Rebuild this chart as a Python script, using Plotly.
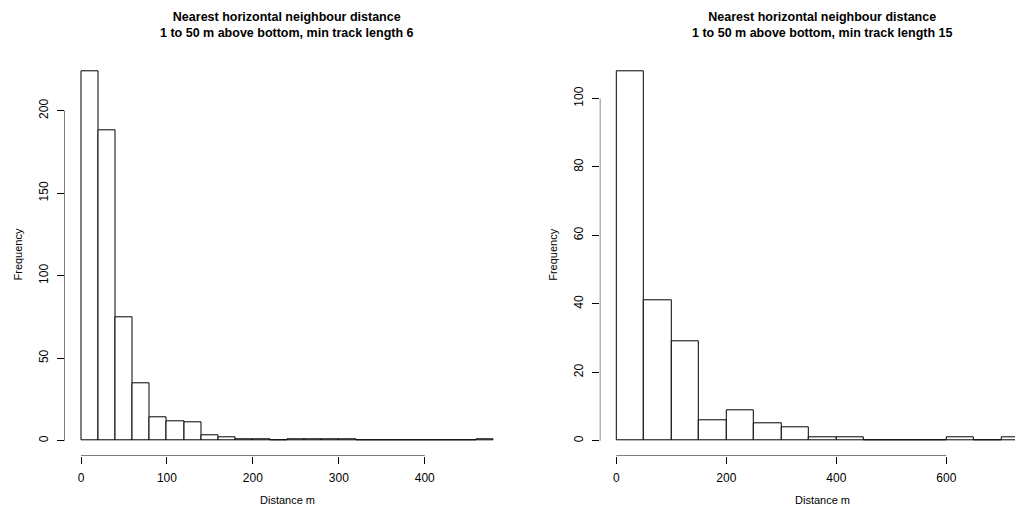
import plotly.graph_objects as go

# ---- data ----
left_bin_width = 20
left_counts = [224, 188, 75, 35, 14, 12, 11, 3, 2, 1, 1, 0, 1, 1, 1, 1,
               0, 0, 0, 0, 0, 0, 0, 1]
left_xticks = [0, 100, 200, 300, 400]
left_yticks = [0, 50, 100, 150, 200]
left_title = "Nearest horizontal neighbour distance<br>1 to 50 m above bottom, min track length 6"

right_bin_width = 50
right_counts = [108, 41, 29, 6, 9, 5, 4, 1, 1, 0, 0, 0, 1, 0, 1]
right_xticks = [0, 200, 400, 600]
right_yticks = [0, 20, 40, 60, 80, 100]
right_title = "Nearest horizontal neighbour distance<br>1 to 50 m above bottom, min track length 15"

x_label = "Distance m"
y_label = "Frequency"

PAGE_W, PAGE_H = 1023, 515
OFF = 8  # default body margin of the html page
W, H = PAGE_W - OFF, PAGE_H - OFF
FONT = "Liberation Sans, Arial, Helvetica, sans-serif"


def px_x(p):
    return (p - OFF) / W


def px_y(p):
    return 1 - (p - OFF) / H


fig = go.Figure()

panels = [
    dict(counts=left_counts, bw=left_bin_width, xt=left_xticks, yt=left_yticks,
         title=left_title, xa="x", ya="y", xdom=[64.5, 510.0],
         clip=False, cx=287),
    dict(counts=right_counts, bw=right_bin_width, xt=right_xticks, yt=right_yticks,
         title=right_title, xa="x2", ya="y2", xdom=[599.8, PAGE_W],
         clip=True, cx=822),
]

y_top_px, y_bot_px = 56.3, 455.5
PLOT_W = 445.5

for i, p in enumerate(panels):
    n = len(p["counts"])
    lefts = [k * p["bw"] for k in range(n)]
    mids = [l + p["bw"] / 2 for l in lefts]
    fig.add_trace(go.Bar(
        x=mids, y=p["counts"], width=[p["bw"]] * n,
        marker=dict(color="white", line=dict(color="black", width=1)),
        xaxis=p["xa"], yaxis=p["ya"], showlegend=False, hoverinfo="x+y",
    ))
    xmax = n * p["bw"]
    ext = 0.04 * xmax
    x0 = -ext
    x1_full = xmax + ext
    if p["clip"]:
        # plot region continues past the right edge of the picture
        scale = PLOT_W / (x1_full - x0)
        x1 = x0 + (p["xdom"][1] - p["xdom"][0]) / scale
    else:
        x1 = x1_full
    ymax = max(p["counts"])
    y0 = -0.04 * ymax
    y1 = ymax * 1.04

    axx = "xaxis" if i == 0 else "xaxis2"
    axy = "yaxis" if i == 0 else "yaxis2"
    fig.layout[axx] = dict(
        domain=[px_x(p["xdom"][0]), min(1.0, px_x(p["xdom"][1]))], range=[x0, x1],
        anchor=p["ya"], showgrid=False, zeroline=False, showline=False,
        ticks="outside", ticklen=7, tickwidth=1, tickcolor="black",
        tickvals=p["xt"], ticktext=[str(v) for v in p["xt"]],
        tickfont=dict(family=FONT, size=12, color="black"),
        ticklabelstandoff=4, fixedrange=True,
    )
    fig.layout[axy] = dict(
        domain=[px_y(y_bot_px), px_y(y_top_px)], range=[y0, y1],
        anchor=p["xa"], showgrid=False, zeroline=False, showline=False,
        ticks="outside", ticklen=7, tickwidth=1, tickcolor="black",
        tickvals=p["yt"], ticktext=[str(v) for v in p["yt"]], tickangle=-90,
        tickfont=dict(family=FONT, size=12, color="black"),
        ticklabelstandoff=4, fixedrange=True,
    )
    # R-style axis lines spanning only first to last tick
    fig.add_shape(type="line", xref=p["xa"], yref=p["ya"],
                  x0=p["xt"][0], x1=p["xt"][-1], y0=y0, y1=y0,
                  line=dict(color="black", width=1))
    fig.add_shape(type="line", xref=p["xa"], yref=p["ya"],
                  x0=x0, x1=x0, y0=p["yt"][0], y1=p["yt"][-1],
                  line=dict(color="black", width=1))

    # titles and axis labels
    fig.add_annotation(text="<b>" + p["title"].replace("<br>", "</b><br><b>") + "</b>",
                       x=px_x(p["cx"]), y=px_y(25.5), xref="paper", yref="paper",
                       showarrow=False, xanchor="center", yanchor="middle",
                       font=dict(family=FONT, size=12.5, color="black"), align="center")
    fig.add_annotation(text=x_label, x=px_x(p["cx"]), y=px_y(500),
                       xref="paper", yref="paper", showarrow=False,
                       xanchor="center", yanchor="middle",
                       font=dict(family=FONT, size=11, color="black"))
    fig.add_annotation(text=y_label, x=px_x(p["xdom"][0] - 47), y=px_y(255),
                       xref="paper", yref="paper", showarrow=False, textangle=-90,
                       xanchor="center", yanchor="middle",
                       font=dict(family=FONT, size=11, color="black"))

fig.update_layout(
    width=W, height=H, margin=dict(l=0, r=0, t=0, b=0),
    paper_bgcolor="white", plot_bgcolor="white", bargap=0,
    font=dict(family=FONT, color="black"),
)

fig.write_html("out.html")
